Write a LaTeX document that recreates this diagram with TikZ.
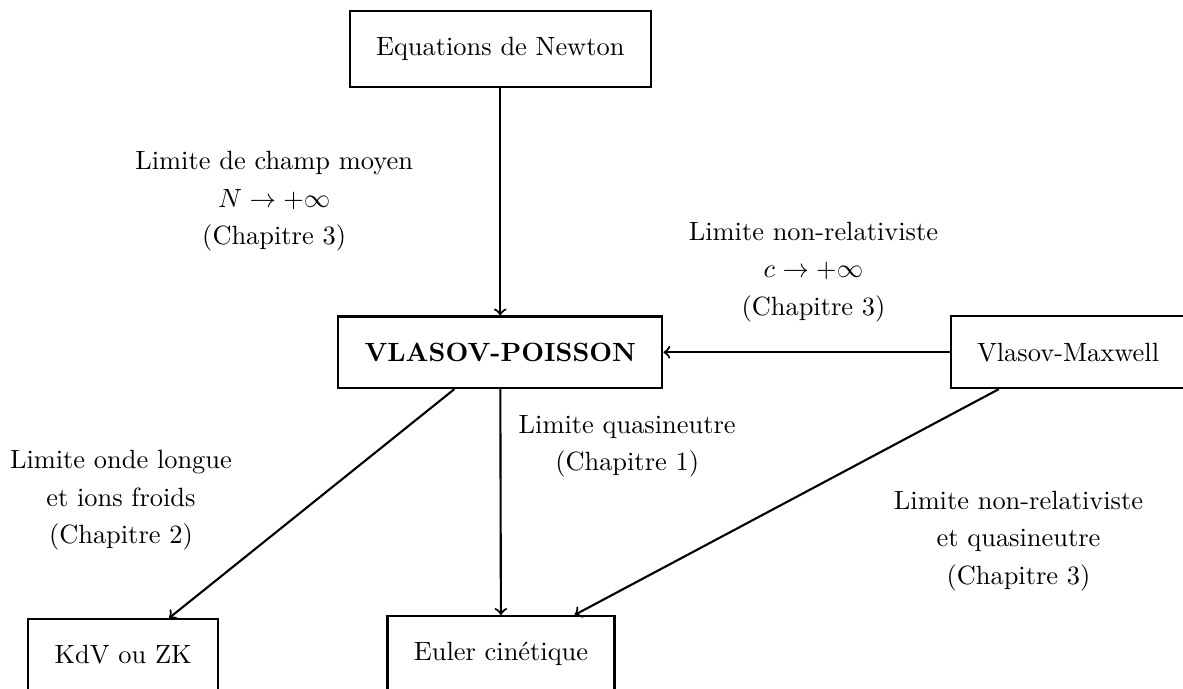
\documentclass[tikz,border=0pt]{standalone}
\usepackage{amssymb}
\usepackage{amsmath}
\usepackage{tikz}

\tikzset{
    modele/.style={draw, thick, inner sep=10pt},
    lbl/.style={align=center, font=\linespread{1.18}\selectfont},
    fleche/.style={->, thick}
}

\begin{document}
\begin{tikzpicture}
    \useasboundingbox (0,0) rectangle (15.75,-9.16);
    % les modeles
    \node[modele] (newton) at (6.66,-0.65) {Equations de Newton};
    \node[modele] (vp) at (6.66,-4.69) {\textbf{VLASOV-POISSON}};
    \node[modele] (vm) at (14.22,-4.69) {Vlasov-Maxwell};
    \node[modele] (kdv) at (1.64,-8.72) {KdV ou ZK};
    \node[modele] (euler) at (6.67,-8.71) {Euler cin\'etique};
    % les limites
    \draw[fleche] (newton) -- (vp);
    \draw[fleche] (vm) -- (vp);
    \draw[fleche] (vp) -- (kdv);
    \draw[fleche] (vp) -- (euler);
    \draw[fleche] (vm) -- (euler);
    % les textes
    \node[lbl] (champ) at (3.65,-2.68) {Limite de champ moyen\\ $N\to+\infty$\\ (Chapitre 3)};
    \node[lbl] (nonrel) at (10.83,-3.62) {Limite non-relativiste\\ $c\to+\infty$\\ (Chapitre 3)};
    \node[lbl] (quasi) at (8.35,-5.94) {Limite quasineutre\\ (Chapitre 1)};
    \node[lbl] (onde) at (1.61,-6.66) {Limite onde longue\\ et ions froids\\ (Chapitre 2)};
    \node[lbl] (nrquasi) at (13.56,-7.20) {Limite non-relativiste\\ et quasineutre\\ (Chapitre 3)};
\end{tikzpicture}
\end{document}
